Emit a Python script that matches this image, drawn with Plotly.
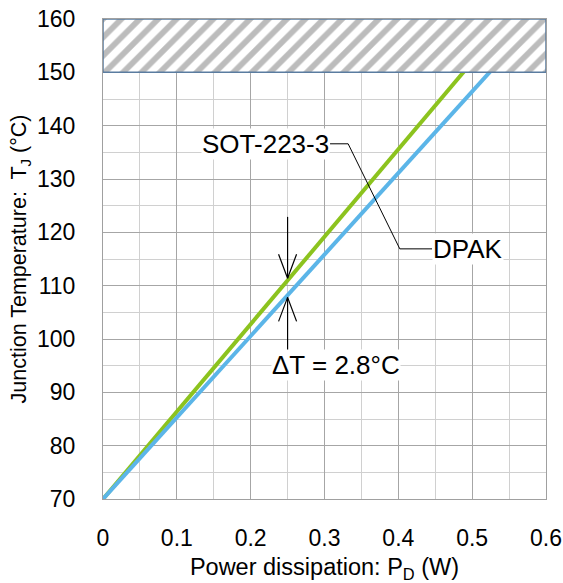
import plotly.graph_objects as go

# ---- data ----
sot_power = [0.0, 0.549]
sot_temp = [70, 160]
dpak_power = [0.0, 0.589]
dpak_temp = [70, 160]

x_ticks = [0, 0.1, 0.2, 0.3, 0.4, 0.5, 0.6]
x_tick_labels = ["0", "0.1", "0.2", "0.3", "0.4", "0.5", "0.6"]
y_ticks = [70, 80, 90, 100, 110, 120, 130, 140, 150, 160]

limit_x = [0, 0.6, 0.6, 0, 0]
limit_y = [150, 150, 160, 160, 150]

leader_x = [0.3075, 0.332, 0.402, 0.4456]
leader_y = [136.6, 136.6, 116.9, 116.9]

arrow_x = 0.25
arrow_top_start, arrow_top_tip = 122.9, 111.4
arrow_bot_start, arrow_bot_tip = 97.4, 107.8
head_dx, head_dy = 0.0122, 4.5

FONT = "Liberation Sans, Arial, sans-serif"
GREEN = "#8cc31e"
BLUE = "#5bb5e8"

fig = go.Figure()
fig.add_trace(go.Scatter(x=sot_power, y=sot_temp, mode="lines",
                         line=dict(color=GREEN, width=4), name="SOT-223-3"))
fig.add_trace(go.Scatter(x=dpak_power, y=dpak_temp, mode="lines",
                         line=dict(color=BLUE, width=4), name="DPAK"))
fig.add_trace(go.Scatter(x=limit_x, y=limit_y, mode="lines", fill="toself",
                         fillcolor="white",
                         fillpattern=dict(shape="/", fgcolor="#7a7a7a", bgcolor="white",
                                          size=13, solidity=0.45),
                         line=dict(color="#5a7ca0", width=1.5), name="limit"))
fig.add_trace(go.Scatter(x=leader_x, y=leader_y, mode="lines",
                         line=dict(color="black", width=1), name="leader"))

shapes = []
def seg(x0, y0, x1, y1):
    shapes.append(dict(type="line", xref="x", yref="y", x0=x0, y0=y0, x1=x1, y1=y1,
                       line=dict(color="black", width=1.2), layer="above"))

seg(arrow_x, arrow_top_start, arrow_x, arrow_top_tip)
seg(arrow_x - head_dx, arrow_top_tip + head_dy, arrow_x, arrow_top_tip)
seg(arrow_x + head_dx, arrow_top_tip + head_dy, arrow_x, arrow_top_tip)
seg(arrow_x, arrow_bot_start, arrow_x, arrow_bot_tip)
seg(arrow_x - head_dx, arrow_bot_tip - head_dy, arrow_x, arrow_bot_tip)
seg(arrow_x + head_dx, arrow_bot_tip - head_dy, arrow_x, arrow_bot_tip)

annotations = [
    dict(x=0.3075, y=136.6, xref="x", yref="y", text="SOT-223-3", showarrow=False,
         xanchor="right", yanchor="middle", bgcolor="white", borderpad=0,
         font=dict(family=FONT, size=26, color="black")),
    dict(x=0.4456, y=116.9, xref="x", yref="y", text="DPAK", showarrow=False,
         xanchor="left", yanchor="middle", bgcolor="white", borderpad=0,
         font=dict(family=FONT, size=26, color="black")),
    dict(x=0.315, y=95.2, xref="x", yref="y", text="ΔT = 2.8°C", showarrow=False,
         xanchor="center", yanchor="middle", bgcolor="white", borderpad=0,
         font=dict(family=FONT, size=26, color="black")),
]

fig.update_layout(
    width=563, height=583,
    margin=dict(l=103, r=17, t=19, b=84, autoexpand=False),
    paper_bgcolor="white", plot_bgcolor="white",
    showlegend=False,
    shapes=shapes, annotations=annotations,
    font=dict(family=FONT, size=23, color="black"),
)
fig.update_xaxes(
    range=[0, 0.6], tickvals=x_ticks, ticktext=x_tick_labels,
    automargin=False, ticklabeloverflow="allow",
    showgrid=True, gridcolor="#a6a6a6", gridwidth=1,
    minor=dict(dtick=0.05, showgrid=True, gridcolor="#d0d0d0", gridwidth=1, ticks=""),
    ticks="outside", ticklen=18, tickcolor="rgba(0,0,0,0)",
    showline=True, linecolor="#a0a0a0", linewidth=1, mirror=True,
    zeroline=False,
    tickfont=dict(family=FONT, size=23),
    title=dict(text="Power dissipation: P<sub>D</sub> (W)", font=dict(family=FONT, size=23.5), standoff=11),
)
fig.update_yaxes(
    range=[70, 160], tickvals=y_ticks,
    automargin=False, ticklabeloverflow="allow",
    showgrid=True, gridcolor="#a6a6a6", gridwidth=1,
    minor=dict(dtick=5, showgrid=True, gridcolor="#d0d0d0", gridwidth=1, ticks=""),
    ticks="outside", ticklen=22, tickcolor="rgba(0,0,0,0)",
    showline=True, linecolor="#a0a0a0", linewidth=1, mirror=True,
    zeroline=False,
    tickfont=dict(family=FONT, size=23),
    title=dict(text="Junction Temperature:  T<sub>J</sub> (°C)", font=dict(family=FONT, size=21.5), standoff=4),
)

fig.write_html("out.html", config={"displayModeBar": False},
               post_script="document.body.style.margin='0';document.body.style.overflow='hidden';")
